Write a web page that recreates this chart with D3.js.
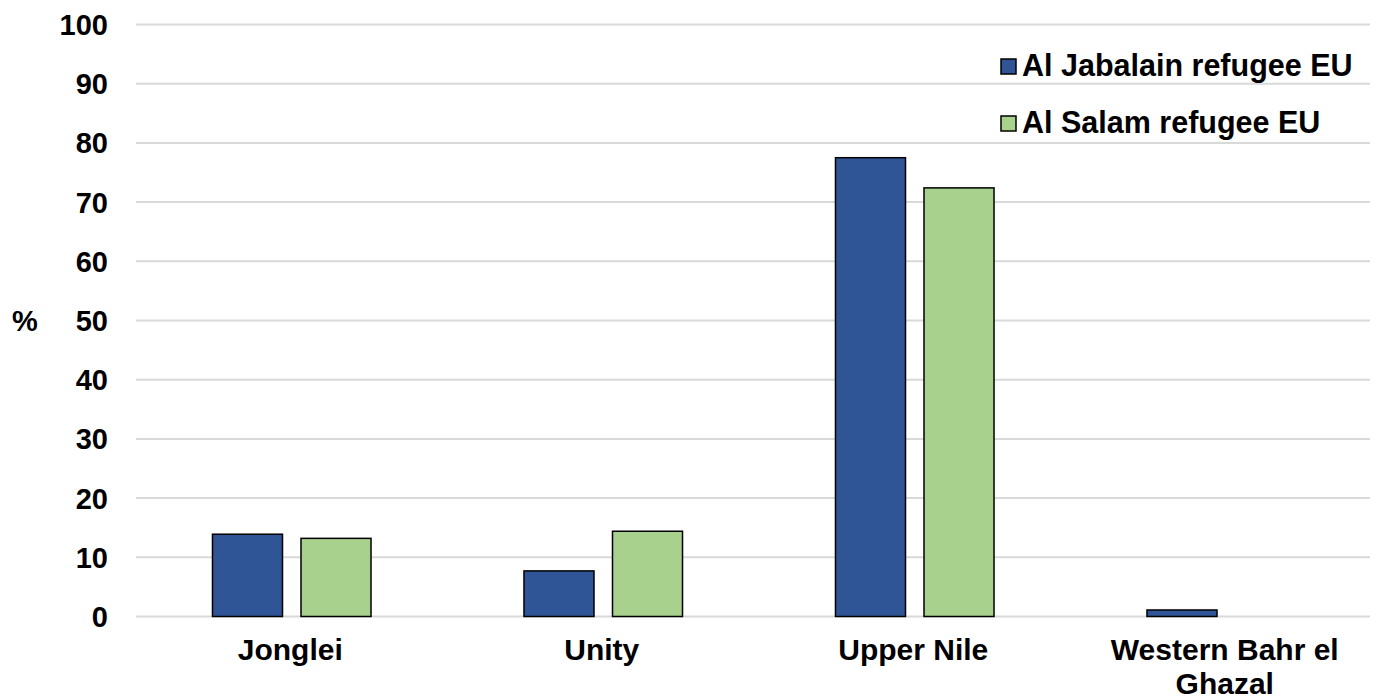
<!DOCTYPE html>
<html>
<head>
<meta charset="utf-8">
<script src="https://cdn.jsdelivr.net/npm/d3@7"></script>
<style>
  body { margin: 0; background: #fff; }
  svg text { font-family: "Liberation Sans", Arial, sans-serif; font-weight: bold; fill: #000; }
</style>
</head>
<body>
<svg id="chart" width="1377" height="700"></svg>
<script>
// values
const categories = ['Jonglei', 'Unity', 'Upper Nile', 'Western Bahr el Ghazal'];
const seriesNames = ['Al Jabalain refugee EU', 'Al Salam refugee EU'];
const jabalain = [13.9, 7.7, 77.5, 1.1];
const salam = [13.2, 14.4, 72.4, 0];
const yTicks = [0, 10, 20, 30, 40, 50, 60, 70, 80, 90, 100];
const colors = ['#2F5597', '#A9D18E'];

const svg = d3.select('#chart');
// the plot runs a little past the right edge of the picture
const plotLeft = 136, plotRight = 1382, gridRight = 1370, plotTop = 24.5, plotBottom = 616.5;

const x0 = d3.scaleBand().domain(categories).range([plotLeft, plotRight]).padding(0);
const x1 = d3.scaleBand()
  .domain(seriesNames)
  .range([0, x0.bandwidth()])
  .paddingInner(0.209)
  .paddingOuter(0.864);
const y = d3.scaleLinear().domain([0, 100]).range([plotBottom, plotTop]);

// gridlines
svg.append('g')
  .selectAll('line')
  .data(yTicks)
  .enter()
  .append('line')
  .attr('x1', plotLeft)
  .attr('x2', gridRight)
  .attr('y1', d => y(d))
  .attr('y2', d => y(d))
  .style('stroke', '#d9d9d9')
  .style('stroke-width', 2);

// y tick labels
svg.append('g')
  .selectAll('text')
  .data(yTicks)
  .enter()
  .append('text')
  .attr('x', 108)
  .attr('y', d => y(d))
  .attr('dy', '0.36em')
  .attr('text-anchor', 'end')
  .style('font-size', '29px')
  .text(d => d);

svg.append('text')
  .attr('x', 25)
  .attr('y', y(50))
  .attr('dy', '0.36em')
  .attr('text-anchor', 'middle')
  .style('font-size', '29px')
  .text('%');

// bars
const rows = categories.map((c, i) => ({ cat: c, values: [jabalain[i], salam[i]] }));

const groups = svg.append('g')
  .selectAll('g')
  .data(rows)
  .enter()
  .append('g')
  .attr('transform', d => `translate(${x0(d.cat)},0)`);

groups.selectAll('rect')
  .data(d => d.values.map((v, i) => ({ name: seriesNames[i], value: v, i })).filter(b => b.value > 0))
  .enter()
  .append('rect')
  .attr('x', d => x1(d.name))
  .attr('width', x1.bandwidth())
  .attr('y', d => y(d.value))
  .attr('height', d => y(0) - y(d.value))
  .style('fill', d => colors[d.i])
  .style('stroke', '#000')
  .style('stroke-width', 1.5);

// category labels (wrapped like the original)
const catLabels = {
  'Jonglei': ['Jonglei'],
  'Unity': ['Unity'],
  'Upper Nile': ['Upper Nile'],
  'Western Bahr el Ghazal': ['Western Bahr el', 'Ghazal'],
};

svg.append('g')
  .selectAll('text')
  .data(categories)
  .enter()
  .append('text')
  .attr('x', d => x0(d) + x0.bandwidth() / 2 - 1.5)
  .attr('y', 659.5)
  .attr('text-anchor', 'middle')
  .style('font-size', '30px')
  .each(function (d) {
    const cx = x0(d) + x0.bandwidth() / 2 - 1.5;
    d3.select(this)
      .selectAll('tspan')
      .data(catLabels[d])
      .enter()
      .append('tspan')
      .attr('x', cx)
      .attr('dy', (t, i) => (i === 0 ? 0 : 34))
      .text(t => t);
  });

// legend
const legend = svg.append('g')
  .selectAll('g')
  .data(seriesNames)
  .enter()
  .append('g')
  .attr('transform', (d, i) => `translate(1001, ${59 + i * 57})`);

legend.append('rect')
  .attr('width', 15)
  .attr('height', 15)
  .style('fill', (d, i) => colors[i])
  .style('stroke', '#000')
  .style('stroke-width', 1.5);

legend.append('text')
  .attr('x', 21)
  .attr('y', 16.5)
  .style('font-size', '30.5px')
  .text(d => d);
</script>
</body>
</html>
